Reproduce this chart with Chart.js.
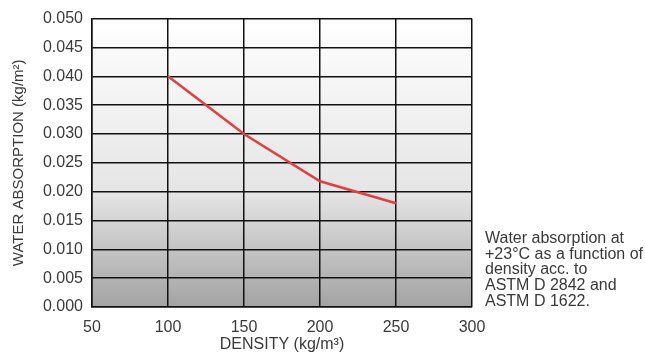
<!DOCTYPE html>
<html>
<head>
<meta charset="utf-8">
<script src="https://cdn.jsdelivr.net/npm/chart.js@4"></script>
<style>
  html, body { margin: 0; padding: 0; background: #ffffff; }
  #wrap { position: relative; width: 645px; height: 358px; }
  #note {
    position: absolute; left: 485px; top: 230px;
    font-family: "Liberation Sans", Arial, sans-serif;
    font-size: 16px; line-height: 15.7px; color: #3a3a3a;
  }
</style>
</head>
<body>
<div id="wrap">
  <canvas id="chart" width="645" height="358"></canvas>
  <div id="note">Water absorption at<br>+23°C as a function of<br>density acc. to<br>ASTM D 2842 and<br>ASTM D 1622.</div>
</div>
<script>
// data
const densities = [100, 150, 200, 250];
const absorption = [0.040, 0.030, 0.0218, 0.018];
const xTicks = [50, 100, 150, 200, 250, 300];
const yTicks = [0, 0.005, 0.01, 0.015, 0.02, 0.025, 0.03, 0.035, 0.04, 0.045, 0.05];

const font = { family: "'Liberation Sans', Arial, sans-serif", size: 16 };
const textColor = "#3a3a3a";

// grey gradient behind the plot
const backgroundPlugin = {
  id: "plotBackground",
  beforeDraw(chart) {
    const { ctx, chartArea } = chart;
    const g = ctx.createLinearGradient(0, chartArea.top, 0, chartArea.bottom);
    g.addColorStop(0, "#ffffff");
    g.addColorStop(0.6, "#e5e5e5");
    g.addColorStop(1, "#a3a3a3");
    ctx.save();
    ctx.fillStyle = g;
    ctx.fillRect(chartArea.left, chartArea.top, chartArea.right - chartArea.left, chartArea.bottom - chartArea.top);
    ctx.restore();
  },
};

new Chart(document.getElementById("chart"), {
  type: "line",
  data: {
    datasets: [{
      data: densities.map((d, i) => ({ x: d, y: absorption[i] })),
      borderColor: "#e0403f",
      borderWidth: 2.5,
      pointRadius: 0,
      tension: 0,
      fill: false,
    }],
  },
  options: {
    responsive: false,
    animation: false,
    layout: { padding: { top: 17, right: 173, left: 10, bottom: 0 } },
    plugins: { legend: { display: false }, tooltip: { enabled: false } },
    scales: {
      x: {
        type: "linear",
        min: 50,
        max: 300,
        afterBuildTicks: (s) => { s.ticks = xTicks.map((v) => ({ value: v })); },
        afterFit: (s) => { s.height = 51; },
        grid: { color: "#111111", lineWidth: 1.5, drawTicks: false },
        border: { color: "#111111", width: 1.5 },
        ticks: { color: textColor, font, padding: 11, maxRotation: 0 },
        title: { display: true, text: "DENSITY (kg/m³)", color: textColor, font: { ...font, size: 16 }, padding: { top: 3 } },
      },
      y: {
        min: 0,
        max: 0.05,
        afterBuildTicks: (s) => { s.ticks = yTicks.map((v) => ({ value: v })); },
        afterFit: (s) => { s.width = 82; },
        grid: { color: "#111111", lineWidth: 1.5, drawTicks: false },
        border: { color: "#111111", width: 1.5 },
        ticks: { color: textColor, font, padding: 9, callback: (v) => v.toFixed(3) },
        title: { display: true, text: "WATER ABSORPTION (kg/m²)", color: textColor, font: { ...font, size: 15 }, padding: 0 },
      },
    },
  },
  plugins: [backgroundPlugin],
});
</script>
</body>
</html>
